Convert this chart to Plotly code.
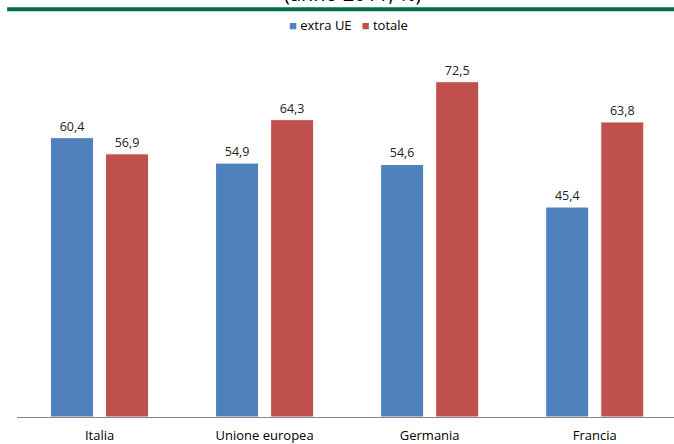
import plotly.graph_objects as go

# Quota percentuale per paese
paesi = ["Italia", "Unione europea", "Germania", "Francia"]
extra_ue = [60.4, 54.9, 54.6, 45.4]
totale = [56.9, 64.3, 72.5, 63.8]

colori = {"extra UE": "#4F81BD", "totale": "#C0504D"}
font_family = "Open Sans, Noto Sans, sans-serif"

fig = go.Figure()
for nome, valori in (("extra UE", extra_ue), ("totale", totale)):
    fig.add_trace(go.Bar(
        name=nome, x=paesi, y=valori,
        marker=dict(color=colori[nome], line=dict(color="white", width=1)),
        texttemplate="%{y:.1f}", textposition="outside",
        textfont=dict(size=12.5, color="#222222"), cliponaxis=False,
    ))

# Legenda compatta, centrata sopra il grafico
legenda = "   ".join(
    f"<span style='color:{colori[n]}'>■</span> {n}" for n in colori
)

fig.update_layout(
    width=674, height=444,
    margin=dict(l=17, r=0, t=47, b=25),
    paper_bgcolor="white", plot_bgcolor="white",
    font=dict(family=font_family, size=12, color="#000000"),
    separators=",.",
    barmode="group", bargap=0.333, bargroupgap=0.218,
    showlegend=False,
    xaxis=dict(range=[-0.5, 3.48], showline=True, linecolor="#888888", linewidth=1,
               ticks="", tickfont=dict(size=13), ticklabelstandoff=6, showgrid=False),
    yaxis=dict(range=[0, 80], visible=False, showgrid=False),
    shapes=[dict(type="line", xref="paper", yref="paper",
                 x0=-0.015, x1=1.0, y0=1.102, y1=1.102,
                 line=dict(color="#006B4F", width=4))],
    annotations=[
        dict(text="(anno 2011, %)", xref="paper", yref="paper",
             x=0.51, y=1.144, xanchor="center", yanchor="middle",
             showarrow=False, font=dict(size=20, color="#000000")),
        dict(text=legenda, xref="paper", yref="paper",
             x=0.504, y=1.059, xanchor="center", yanchor="middle",
             showarrow=False, font=dict(size=13, color="#000000")),
    ],
)

fig.write_html("out.html")
